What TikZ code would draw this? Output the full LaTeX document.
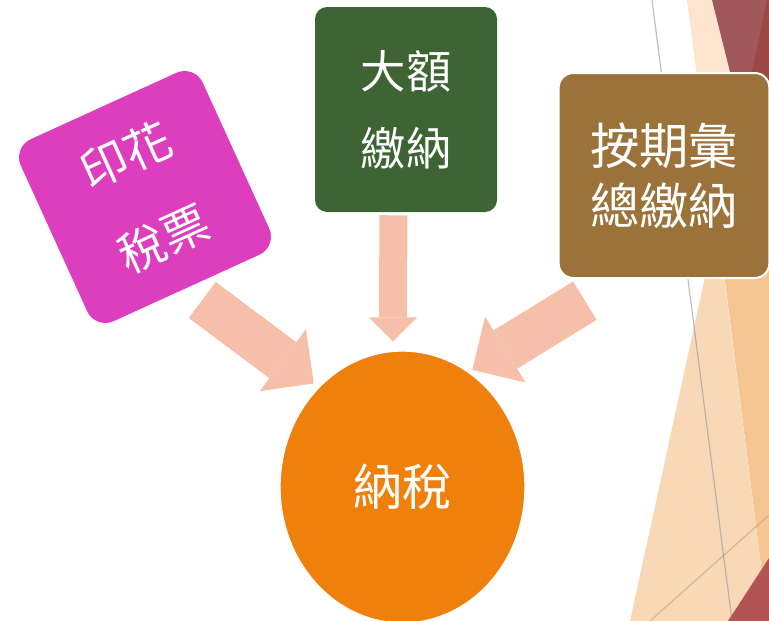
\documentclass[tikz,border=0pt]{standalone}
\usepackage{fontspec}
\newfontfamily\cjk{Noto Sans CJK TC}
\usetikzlibrary{arrows.meta,shapes.geometric,backgrounds}

\begin{document}
\begin{tikzpicture}[x=0.75pt,y=0.75pt,yscale=-1,xscale=1,
    tile/.style={inner sep=0pt, align=center, text=white},
    fatarrow/.style={color={rgb, 255:red, 245; green, 191; blue, 170 }, line width=33.75pt,
        -{Triangle[length=29pt,width=58pt,line width=0pt]}},
    slimarrow/.style={color={rgb, 255:red, 245; green, 191; blue, 170 }, line width=21pt,
        -{Triangle[length=18pt,width=36pt,line width=0pt]}}]
\useasboundingbox (0,0) rectangle (769,621);

%Shape: Facets top right
\fill [color={rgb, 255:red, 252; green, 228; blue, 206 }] (687,0) -- (712,0) -- (737,100) -- (700,100) -- cycle ;
\fill [color={rgb, 255:red, 160; green, 88; blue, 90 }] (712,0) -- (769,0) -- (769,100) -- (737,100) -- cycle ;
\fill [color={rgb, 255:red, 156; green, 72; blue, 68 }] (767,0) -- (769,0) -- (769,100) -- (746,100) -- cycle ;
%Shape: Facets bottom right
\fill [color={rgb, 255:red, 246; green, 198; blue, 146 }] (716,210) -- (769,210) -- (769,621) -- (768,621) -- cycle ;
\fill [color={rgb, 255:red, 249; green, 216; blue, 183 }] (717,222) -- (768,621) -- (630,621) -- cycle ;
%Straight Lines
\draw [color={rgb, 255:red, 190; green, 160; blue, 130 }, draw opacity=0.6, line width=0.9pt] (650,621) -- (769,515) ;
\draw [color={rgb, 255:red, 150; green, 150; blue, 150 }, draw opacity=0.6, line width=0.9pt] (652,0) -- (732,621) ;
\fill [color={rgb, 255:red, 178; green, 84; blue, 84 }] (728,621) -- (769,558) -- (769,621) -- cycle ;

% Text Node
\node [tile, fill={rgb, 255:red, 220; green, 62; blue, 190 }, rounded corners=15pt,
    minimum width=150pt, minimum height=150pt, rotate=24.5,
    font={\cjk\fontsize{35pt}{69pt}\selectfont}] (stamp) at (145,197) {印花\\稅票};
% Text Node
\node [tile, fill={rgb, 255:red, 61; green, 100; blue, 50 }, rounded corners=9pt,
    minimum width=136.5pt, minimum height=153.75pt,
    font={\cjk\fontsize{34pt}{58pt}\selectfont}] (large) at (406,109.5) {大額\\繳納};
% Text Node
\node [tile, fill={rgb, 255:red, 155; green, 115; blue, 58 }, draw=white, line width=1.5pt, rounded corners=11pt,
    minimum width=158pt, minimum height=153.75pt,
    font={\cjk\fontsize{37pt}{45pt}\selectfont}] (periodic) at (664,175.5) {按期彙\\總繳納};
% Text Node
\node [tile, ellipse, fill={rgb, 255:red, 240; green, 128; blue, 12 }, draw=white, line width=1pt,
    minimum width=183.75pt, minimum height=204pt,
    font={\cjk\fontsize{37pt}{45pt}\selectfont}] (tax) at (402.5,487) {納稅};

%Block Arrows
\begin{scope}[on background layer]
\draw [fatarrow, shorten <=14.7pt, shorten >=4.5pt] (stamp.south) -- (tax.130) ;
\draw [slimarrow, shorten <=2.25pt, shorten >=7pt] (large.-97) -- (tax.94) ;
\draw [fatarrow, shorten <=31pt, shorten >=3pt] (periodic.-113.5) -- (tax.60) ;
\end{scope}
\end{tikzpicture}
\end{document}
